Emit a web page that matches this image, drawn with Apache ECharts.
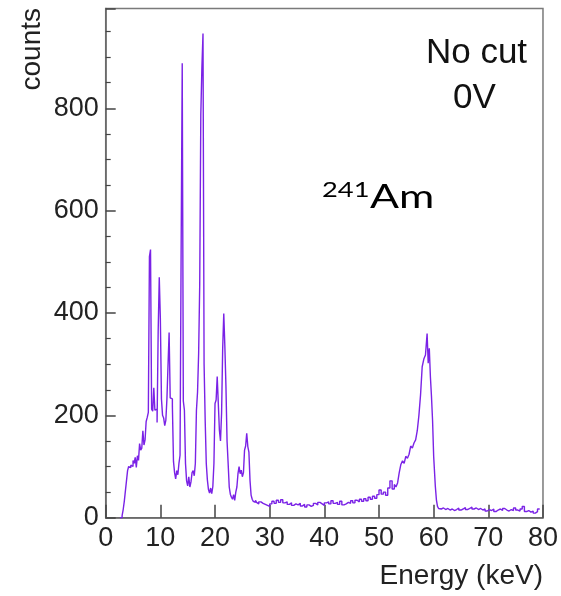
<!DOCTYPE html>
<html>
<head>
<meta charset="utf-8">
<script src="https://cdn.jsdelivr.net/npm/echarts@6/dist/echarts.min.js"></script>
<style>
html,body{margin:0;padding:0;background:#fff;}
#chart{width:561px;height:596px;}
</style>
</head>
<body>
<div id="chart"></div>
<script>
// Histogram bin left edges (keV) and counts
const energyKeV = [
  2.6,2.8,3.0,3.2,3.4,3.6,3.8,4.0,4.2,4.4,4.6,4.8,5.0,5.2,5.4,5.6,5.8,6.0,6.2,6.4,6.6,6.8,7.0,7.2,7.4,7.6,7.8,
  8.0,8.2,8.4,8.6,8.8,9.0,9.2,9.4,9.6,9.8,10.0,10.2,10.4,10.6,10.8,11.0,11.2,11.4,11.6,11.8,12.0,12.2,12.4,12.6,12.8,
  13.0,13.2,13.4,13.6,13.8,14.0,14.2,14.4,14.6,14.8,15.0,15.2,15.4,15.6,15.8,16.0,16.2,16.4,16.6,16.8,17.0,17.2,17.4,
  17.6,17.8,18.0,18.2,18.4,18.6,18.8,19.0,19.2,19.4,19.6,19.8,20.0,20.2,20.4,20.6,20.8,21.0,21.2,21.4,21.6,21.8,22.0,
  22.2,22.4,22.6,22.8,23.0,23.2,23.4,23.6,23.8,24.0,24.2,24.4,24.6,24.8,25.0,25.2,25.4,25.6,25.8,26.0,26.2,26.4,26.6,
  26.8,27.0,27.2,27.4,27.6,27.8,
  28.0,28.4,28.8,29.2,29.6,30.0,30.4,30.8,31.2,31.6,32.0,32.4,32.8,33.2,33.6,34.0,34.4,34.8,35.2,35.6,36.0,36.4,36.8,
  37.2,37.6,38.0,38.4,38.8,39.2,39.6,40.0,40.4,40.8,41.2,41.6,42.0,42.4,42.8,43.2,43.6,44.0,44.4,44.8,45.2,45.6,46.0,
  46.4,46.8,47.2,47.6,48.0,48.4,48.8,49.2,49.6,50.0,50.4,50.8,51.2,51.6,52.0,52.4,52.8,53.1,53.4,53.7,54.0,54.3,54.6,
  54.9,55.2,55.5,55.8,56.1,56.4,56.7,57.0,57.3,57.6,57.9,58.2,58.5,58.8,59.0,59.2,59.4,59.6,59.8,60.0,60.3,60.5,60.7,
  60.9,61.1,61.4,61.8,62.2,62.6,63.0,63.4,63.8,64.2,64.6,65.0,65.4,65.8,66.2,66.6,67.0,67.4,67.8,68.2,68.6,69.0,69.4,
  69.8,70.2,70.6,71.0,71.4,71.8,72.2,72.6,73.0,73.4,73.8,74.2,74.6,75.0,75.4,75.8,76.2,76.6,77.0,77.4,77.8,78.2,78.6,
  79.0,79.4,79.8
];
const counts = [
  0,0,4,16,32,52,72,92,100,98,103,100,112,106,118,98,121,112,145,132,136,170,142,152,188,196,206,
  510,524,212,208,254,210,212,186,365,470,388,232,200,195,180,190,232,298,362,234,232,218,110,88,76,
  92,84,106,122,523,888,228,210,106,72,62,80,60,70,88,92,82,106,210,245,320,455,788,
  880,946,300,190,106,74,55,48,58,47,61,106,223,230,276,223,171,150,204,330,399,
  334,256,150,106,60,46,40,36,45,34,50,60,86,100,86,93,80,88,132,140,165,139,128,
  73,44,36,32,30,34,
  30,27,31,28,26,24,22,27,32,28,34,30,35,29,31,26,29,24,27,25,28,23,26,
  21,25,22,24,28,25,30,27,24,29,31,27,33,28,30,26,32,25,27,30,28,33,29,
  34,31,36,32,37,33,40,36,42,38,45,54,46,50,44,58,72,56,65,60,68,88,104,
  111,106,120,116,124,140,136,146,152,170,200,240,295,310,318,360,302,331,276,237,190,120,62,
  35,22,18,17,19,16,18,15,17,14,16,19,15,17,20,16,18,21,17,19,16,18,15,
  17,13,16,14,17,12,15,17,14,18,15,13,16,14,19,15,13,17,22,12,14,11,13,
  9,12,17
];
const xMax = 80;
const yMax = 995;
const xTickLabels = [0,10,20,30,40,50,60,70,80];
const yTickLabels = [0,200,400,600,800];

const histData = energyKeV.map((e, i) => [e, counts[i]]);
histData.push([xMax, counts[counts.length - 1]]);

const chart = echarts.init(document.getElementById('chart'), null, {renderer: 'canvas'});
const axisFont = 'Liberation Sans, Arial, sans-serif';
chart.setOption({
  animation: false,
  backgroundColor: '#ffffff',
  grid: {
    left: 105.7, right: 15, top: 8.5, bottom: 78.3,
    show: true, borderColor: '#7a7a7a', borderWidth: 1.5, backgroundColor: 'transparent'
  },
  xAxis: {
    type: 'value', min: 0, max: xMax, interval: 10,
    axisLine: {show: true, lineStyle: {color: '#666', width: 1.5}},
    axisTick: {show: true, inside: true, length: 13, lineStyle: {color: '#444', width: 1.5}},
    minorTick: {show: false},
    splitLine: {show: false},
    axisLabel: {
      margin: 7, fontSize: 27, color: '#222', fontFamily: axisFont,
      formatter: v => xTickLabels.includes(v) ? String(v) : ''
    }
  },
  yAxis: {
    type: 'value', min: 0, max: yMax, interval: 200,
    axisLine: {show: true, lineStyle: {color: '#666', width: 1.5}},
    axisTick: {show: true, inside: true, length: 10, lineStyle: {color: '#444', width: 1.5}},
    minorTick: {show: true, splitNumber: 4, length: 5, lineStyle: {color: '#444', width: 1.2}},
    splitLine: {show: false},
    minorSplitLine: {show: false},
    axisLabel: {
      margin: 7, fontSize: 27, color: '#222', fontFamily: axisFont,
      formatter: v => yTickLabels.includes(v) ? String(v) : ''
    }
  },
  series: [{
    type: 'line',
    step: 'end',
    data: histData,
    showSymbol: false,
    symbol: 'none',
    lineStyle: {color: '#7a22e6', width: 1.4},
    clip: true
  }],
  graphic: [
    {type: 'text', x: 543, y: 576, style: {text: 'Energy (keV)', font: '28px ' + axisFont, fill: '#222', align: 'right', verticalAlign: 'middle'}},
    {type: 'text', x: 32.5, y: 8, rotation: Math.PI / 2, style: {text: 'counts', font: '28px ' + axisFont, fill: '#222', align: 'right', verticalAlign: 'middle'}},
    {type: 'text', x: 476.5, y: 53, style: {text: 'No cut', font: '35px ' + axisFont, fill: '#111', align: 'center', verticalAlign: 'middle'}},
    {type: 'text', x: 474.5, y: 98, style: {text: '0V', font: '35px ' + axisFont, fill: '#111', align: 'center', verticalAlign: 'middle'}},
    {type: 'text', x: 322, y: 190, scaleX: 1.3, style: {text: '241', font: '21px Lato, Open Sans, sans-serif', fill: '#000', align: 'left', verticalAlign: 'middle'}},
    {type: 'text', x: 370, y: 197, scaleX: 1.3, style: {text: 'Am', font: '33px Lato, Open Sans, sans-serif', fill: '#000', align: 'left', verticalAlign: 'middle'}}
  ]
});
</script>
</body>
</html>
